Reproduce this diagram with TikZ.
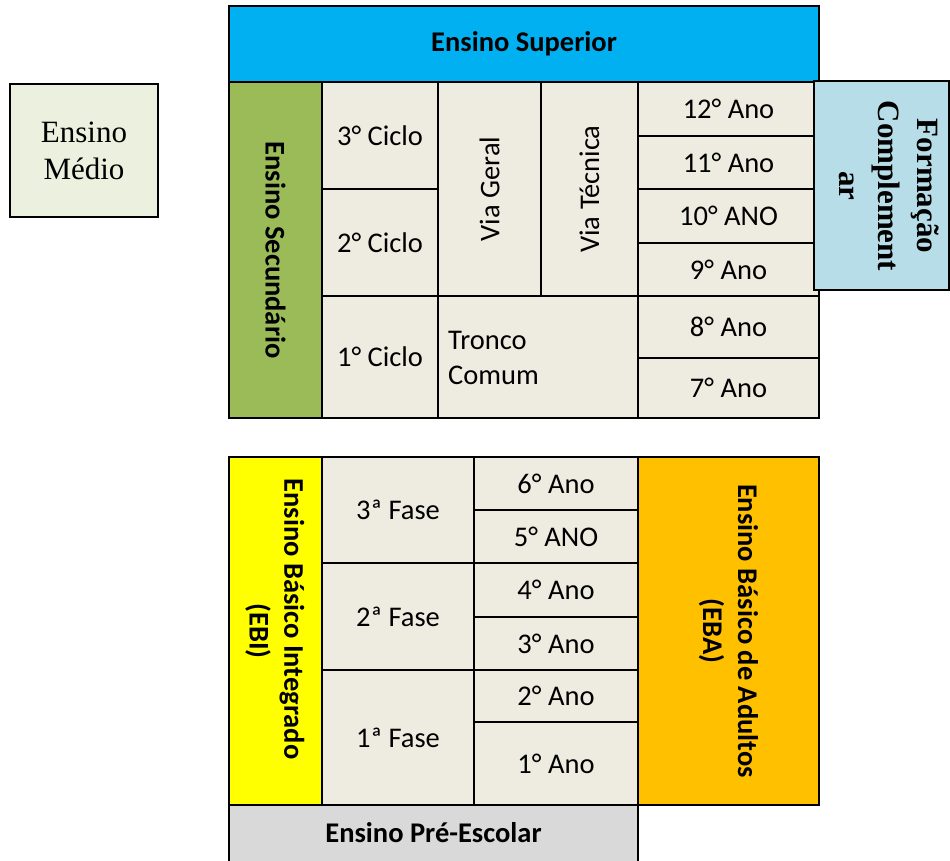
\documentclass[tikz,border=0pt]{standalone}
\usepackage{fontspec}
\setmainfont{Carlito}
\newfontfamily\timesf{Liberation Serif}
\usetikzlibrary{calc}
\definecolor{supblue}{HTML}{00B0F0}
\definecolor{secgreen}{HTML}{9BBB59}
\definecolor{cellbg}{HTML}{EEECE1}
\definecolor{formblue}{HTML}{B7DDE8}
\definecolor{mediobg}{HTML}{EBF1DE}
\definecolor{ebiyellow}{HTML}{FFFF00}
\definecolor{ebaorange}{HTML}{FFC000}
\definecolor{pregray}{HTML}{D9D9D9}
\newcommand\cellbox[6]{%
  \draw[cellline,fill=#4] #2 rectangle #3;
  \node[#5] (#1) at ($#2!0.5!#3$) {#6};
}
\begin{document}
\begin{tikzpicture}[x=1pt,y=-1pt,
  cellline/.style={draw=black,line width=2pt},
  txt/.style={font=\fontsize{28.5}{35}\selectfont,inner sep=0pt,align=center},
  btxt/.style={font=\fontsize{28.5}{35}\selectfont\bfseries,inner sep=0pt,align=center},
  ttxt/.style={font=\timesf\fontsize{31}{37}\selectfont,inner sep=0pt,align=center},
  tbtxt/.style={font=\timesf\bfseries\fontsize{31}{39}\selectfont,inner sep=0pt,align=center}]
\useasboundingbox (0,0) rectangle (950,861);
% Ensino Medio
\cellbox{medio}{(10,84)}{(158,217)}{mediobg}{ttxt}{Ensino\\Médio}
% Upper block
\cellbox{sup}{(229,6)}{(819,82)}{supblue}{btxt}{Ensino Superior}
\cellbox{sec}{(229,82)}{(322,418)}{secgreen}{btxt,rotate=-90}{Ensino Secundário}
\cellbox{c3}{(322,82)}{(438,189)}{cellbg}{txt}{3° Ciclo}
\cellbox{c2}{(322,189)}{(438,296)}{cellbg}{txt}{2° Ciclo}
\cellbox{c1}{(322,296)}{(438,418)}{cellbg}{txt}{1° Ciclo}
\cellbox{vg}{(438,82)}{(541,296)}{cellbg}{txt,rotate=90}{Via Geral}
\cellbox{vt}{(541,82)}{(638,296)}{cellbg}{txt,rotate=90}{Via Técnica}
\draw[cellline,fill=cellbg] (438,296) rectangle (638,418);
\node[txt,align=left,anchor=west] (tronco) at (448,358) {Tronco\\Comum};
\cellbox{a12}{(638,82)}{(819,136)}{cellbg}{txt}{12° Ano}
\cellbox{a11}{(638,136)}{(819,189)}{cellbg}{txt}{11° Ano}
\cellbox{a10}{(638,189)}{(819,243)}{cellbg}{txt}{10° ANO}
\cellbox{a9}{(638,243)}{(819,296)}{cellbg}{txt}{9° Ano}
\cellbox{a8}{(638,296)}{(819,358)}{cellbg}{txt}{8° Ano}
\cellbox{a7}{(638,358)}{(819,418)}{cellbg}{txt}{7° Ano}
\draw[cellline,fill=formblue] (814,81) rectangle (948.5,290);
\node[tbtxt,rotate=-90] (form) at (889,186) {Formação\\Complement\\ar};
% Lower block
\draw[cellline,fill=ebiyellow] (229,457) rectangle (322,805);
\node[btxt,rotate=-90] (ebi) at (292,619) {Ensino Básico Integrado};
\node[btxt,rotate=-90] (ebi2) at (258,631) {(EBI)};
\cellbox{f3}{(322,457)}{(474,563)}{cellbg}{txt}{3ª Fase}
\cellbox{f2}{(322,563)}{(474,670)}{cellbg}{txt}{2ª Fase}
\cellbox{f1}{(322,670)}{(474,805)}{cellbg}{txt}{1ª Fase}
\cellbox{b6}{(474,457)}{(638,510)}{cellbg}{txt}{6° Ano}
\cellbox{b5}{(474,510)}{(638,563)}{cellbg}{txt}{5° ANO}
\cellbox{b4}{(474,563)}{(638,617)}{cellbg}{txt}{4° Ano}
\cellbox{b3}{(474,617)}{(638,670)}{cellbg}{txt}{3° Ano}
\cellbox{b2}{(474,670)}{(638,722)}{cellbg}{txt}{2° Ano}
\cellbox{b1}{(474,722)}{(638,805)}{cellbg}{txt}{1° Ano}
\cellbox{eba}{(638,457)}{(819,805)}{ebaorange}{btxt,rotate=-90}{Ensino Básico de Adultos\\(EBA)}
\draw[cellline,fill=pregray] (229,805) rectangle (638,864);
\node[btxt] (pre) at (433.5,833) {Ensino Pré-Escolar};
\end{tikzpicture}
\end{document}
